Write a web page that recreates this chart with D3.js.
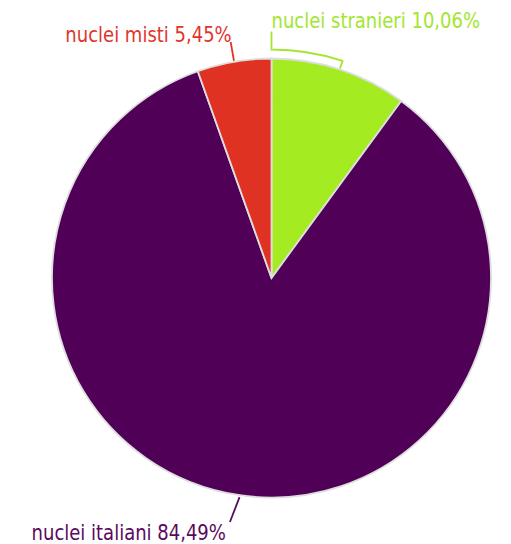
<!DOCTYPE html>
<html lang="it">
<head>
<meta charset="UTF-8">
<title>Nuclei familiari</title>
<script src="https://d3js.org/d3.v7.min.js"></script>
<style>
    body { margin: 0; background: #fff; }
    svg text { font-family: "DejaVu Sans Condensed", "Liberation Sans Narrow", sans-serif; }
</style>
</head>
<body>
<div id="chart"></div>
<script>
// data
const categories = ["nuclei stranieri", "nuclei italiani", "nuclei misti"];
const values = [10.06, 84.49, 5.45];
const colors = ["#a4eb22", "#500057", "#e03223"];
const textColors = ["#a2e630", "#5a0a5e", "#e0352b"];

const width = 511, height = 544;
const cx = 271.5, cy = 278, r = 219.5;
const squeeze = 0.91; // narrow the font a little

const svg = d3.select("#chart").append("svg")
    .attr("width", width)
    .attr("height", height);

const g = svg.append("g").attr("transform", `translate(${cx},${cy})`);

const pie = d3.pie().sort(null).value(d => d)(values);
const arc = d3.arc().innerRadius(0).outerRadius(r);

g.selectAll("path.slice")
    .data(pie)
    .enter().append("path")
    .attr("class", "slice")
    .attr("d", arc)
    .attr("fill", (d, i) => colors[i])
    .attr("stroke", "#dedede")
    .attr("stroke-width", 1.8);

// point on circle at angle a (radians, clockwise from top)
const pt = (a, rad) => [rad * Math.sin(a), -rad * Math.cos(a)];
const mid = d => (d.startAngle + d.endAngle) / 2;
const fmt = v => v.toFixed(2).replace(".", ",") + "%";

function label(i, x, y, anchor) {
    g.append("text")
        .attr("transform", `translate(${x},${y}) scale(${squeeze},1)`)
        .attr("text-anchor", anchor)
        .attr("fill", textColors[i])
        .attr("font-size", 22)
        .text(categories[i] + " " + fmt(values[i]));
}

// stranieri: bracket-like leader following the rim
{
    const d = pie[0], i = 0;
    const m = mid(d);
    const a0 = pt(m, r + 1), a1 = pt(m, r + 9);
    const s = pt(d.startAngle, r + 9);
    const p = d3.path();
    p.moveTo(a0[0], a0[1]);
    p.lineTo(a1[0], a1[1]);
    p.arc(0, 0, r + 9, m - Math.PI / 2, d.startAngle - Math.PI / 2, true);
    p.lineTo(s[0], s[1] - 18);
    g.append("path").attr("d", p.toString())
        .attr("fill", "none").attr("stroke", textColors[i]).attr("stroke-width", 1.8);
    label(i, s[0], s[1] - 22, "start");
}

// misti: radial leader
{
    const d = pie[2], i = 2;
    const m = mid(d);
    const a0 = pt(m, r + 1), a1 = pt(m, r + 20);
    g.append("line")
        .attr("x1", a0[0]).attr("y1", a0[1])
        .attr("x2", a1[0]).attr("y2", a1[1])
        .attr("stroke", textColors[i]).attr("stroke-width", 1.8);
    label(i, a1[0] + 1, a1[1], "end");
}

// italiani: leader below the pie
{
    const d = pie[1], i = 1;
    const m = mid(d);
    const a0 = pt(m, r + 2), a1 = pt(m + 0.024, r + 28);
    g.append("line")
        .attr("x1", a0[0]).attr("y1", a0[1])
        .attr("x2", a1[0]).attr("y2", a1[1])
        .attr("stroke", textColors[i]).attr("stroke-width", 1.8);
    label(i, a1[0] - 4, a1[1] + 18, "end");
}
</script>
</body>
</html>
